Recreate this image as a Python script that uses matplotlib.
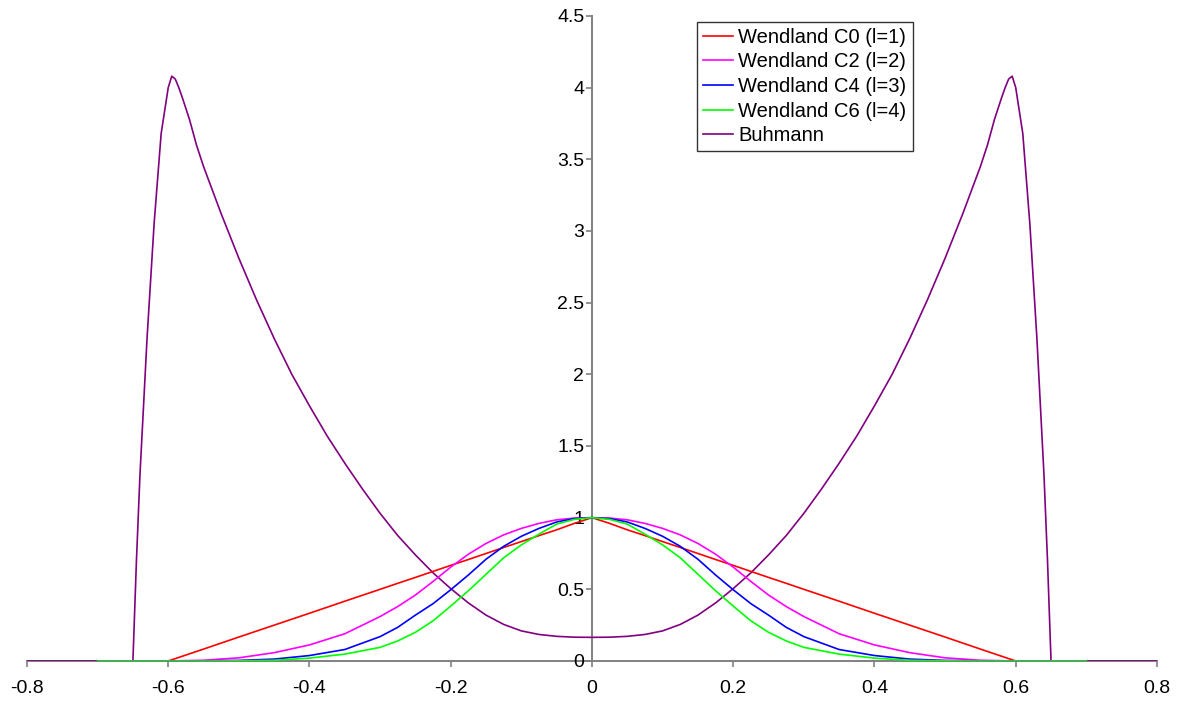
import matplotlib
matplotlib.use("Agg")
import matplotlib.pyplot as plt

plt.rcParams['font.family'] = ['Liberation Sans', 'DejaVu Sans']

# Wendland functions (finer grid around the peak)
w_x = [-0.7, -0.65, -0.6, -0.55, -0.5, -0.45, -0.4, -0.35,
       -0.3, -0.275, -0.25, -0.225, -0.2, -0.175, -0.15, -0.125, -0.1, -0.075, -0.05, -0.025,
       0.0,
       0.025, 0.05, 0.075, 0.1, 0.125, 0.15, 0.175, 0.2, 0.225, 0.25, 0.275, 0.3,
       0.35, 0.4, 0.45, 0.5, 0.55, 0.6, 0.65, 0.7]
c0 = [0, 0, 0, 0.083, 0.167, 0.25, 0.333, 0.417,
      0.5, 0.542, 0.583, 0.625, 0.667, 0.708, 0.75, 0.792, 0.833, 0.875, 0.915, 0.96,
      1.0,
      0.96, 0.915, 0.875, 0.833, 0.792, 0.75, 0.708, 0.667, 0.625, 0.583, 0.542, 0.5,
      0.417, 0.333, 0.25, 0.167, 0.083, 0, 0, 0]
c2 = [0, 0, 0, 0.005, 0.022, 0.058, 0.112, 0.19,
      0.31, 0.38, 0.46, 0.555, 0.655, 0.745, 0.82, 0.88, 0.925, 0.96, 0.985, 0.997,
      1.0,
      0.997, 0.985, 0.96, 0.925, 0.88, 0.82, 0.745, 0.655, 0.555, 0.46, 0.38, 0.31,
      0.19, 0.112, 0.058, 0.022, 0.005, 0, 0, 0]
c4 = [0, 0, 0, 0.001, 0.004, 0.013, 0.038, 0.08,
      0.17, 0.235, 0.32, 0.40, 0.497, 0.60, 0.71, 0.80, 0.87, 0.925, 0.97, 0.993,
      1.0,
      0.993, 0.97, 0.925, 0.87, 0.80, 0.71, 0.60, 0.497, 0.40, 0.32, 0.235, 0.17,
      0.08, 0.038, 0.013, 0.004, 0.001, 0, 0, 0]
c6 = [0, 0, 0, 0, 0.001, 0.005, 0.02, 0.048,
      0.095, 0.14, 0.2, 0.28, 0.383, 0.49, 0.605, 0.72, 0.81, 0.885, 0.955, 0.988,
      1.0,
      0.988, 0.955, 0.885, 0.81, 0.72, 0.605, 0.49, 0.383, 0.28, 0.2, 0.14, 0.095,
      0.048, 0.02, 0.005, 0.001, 0, 0, 0, 0]

# Buhmann function (denser sampling around the sharp peaks)
b_x = [-0.8, -0.75, -0.7, -0.65, -0.645, -0.64, -0.63, -0.62, -0.61, -0.6, -0.595,
       -0.59, -0.585, -0.58, -0.57, -0.56, -0.55, -0.525, -0.5, -0.475, -0.45, -0.425,
       -0.4, -0.375, -0.35, -0.325, -0.3, -0.275, -0.25, -0.225, -0.2, -0.175, -0.15,
       -0.125, -0.1, -0.075, -0.05, -0.025, 0.0,
       0.025, 0.05, 0.075, 0.1, 0.125, 0.15, 0.175, 0.2, 0.225, 0.25, 0.275, 0.3,
       0.325, 0.35, 0.375, 0.4, 0.425, 0.45, 0.475, 0.5, 0.525, 0.55, 0.56, 0.57,
       0.58, 0.585, 0.59, 0.595, 0.6, 0.61, 0.62, 0.63, 0.64, 0.645, 0.65, 0.7, 0.75, 0.8]
buhmann = [0, 0, 0, 0, 0.7, 1.3, 2.25, 3.05, 3.68, 4.0, 4.08,
           4.06, 4.0, 3.93, 3.78, 3.6, 3.45, 3.12, 2.81, 2.52, 2.25, 2.0,
           1.78, 1.57, 1.38, 1.2, 1.03, 0.875, 0.74, 0.615, 0.505, 0.405, 0.32,
           0.255, 0.21, 0.185, 0.172, 0.166, 0.165,
           0.166, 0.172, 0.185, 0.21, 0.255, 0.32, 0.405, 0.505, 0.615, 0.74, 0.875, 1.03,
           1.2, 1.38, 1.57, 1.78, 2.0, 2.25, 2.52, 2.81, 3.12, 3.45, 3.6, 3.78,
           3.93, 4.0, 4.06, 4.08, 4.0, 3.68, 3.05, 2.25, 1.3, 0.7, 0, 0, 0, 0]

x_ticks = [-0.8, -0.6, -0.4, -0.2, 0, 0.2, 0.4, 0.6, 0.8]
x_labels = ["-0.8", "-0.6", "-0.4", "-0.2", "0", "0.2", "0.4", "0.6", "0.8"]
y_ticks = [0, 0.5, 1, 1.5, 2, 2.5, 3, 3.5, 4, 4.5]
y_labels = ["0", "0.5", "1", "1.5", "2", "2.5", "3", "3.5", "4", "4.5"]

fig = plt.figure(figsize=(11.83, 7.04), dpi=100)
ax = fig.add_axes([0.0228, 0.0611, 0.9552, 0.9162])

lw = 1.2
ax.plot(w_x, c0, color="#FF0000", lw=lw, label="Wendland C0 (l=1)", zorder=3)
ax.plot(w_x, c2, color="#FF00FF", lw=lw, label="Wendland C2 (l=2)", zorder=3)
ax.plot(w_x, c4, color="#0000FF", lw=lw, label="Wendland C4 (l=3)", zorder=3)
ax.plot(w_x, c6, color="#00FF00", lw=lw, label="Wendland C6 (l=4)", zorder=3)
ax.plot(b_x, buhmann, color="#800080", lw=lw, label="Buhmann", zorder=2)

ax.set_xlim(-0.8, 0.8)
ax.set_ylim(0, 4.5)

for side in ["top", "right"]:
    ax.spines[side].set_visible(False)
ax.spines["left"].set_position(("data", 0))
ax.spines["bottom"].set_position(("data", 0))
for side in ["left", "bottom"]:
    ax.spines[side].set_color("#808080")
    ax.spines[side].set_linewidth(1.4)
    ax.spines[side].set_zorder(1)

ax.set_xticks(x_ticks)
ax.set_xticklabels(x_labels)
ax.set_yticks(y_ticks)
ax.set_yticklabels(y_labels)
ax.tick_params(axis="x", direction="out", length=4, width=1.2, color="#808080",
               pad=10, labelsize=14)
ax.tick_params(axis="y", direction="out", length=4, width=1.2, color="#808080",
               pad=1.5, labelsize=14)

leg = ax.legend(loc="upper left", bbox_to_anchor=(0.593, 0.991), borderaxespad=0,
                fontsize=14.5, frameon=True, fancybox=False, edgecolor="black",
                handlelength=1.5, handletextpad=0.25, labelspacing=0.28,
                borderpad=0.3)
leg.get_frame().set_linewidth(1.0)

fig.savefig("out.png", dpi=100)
